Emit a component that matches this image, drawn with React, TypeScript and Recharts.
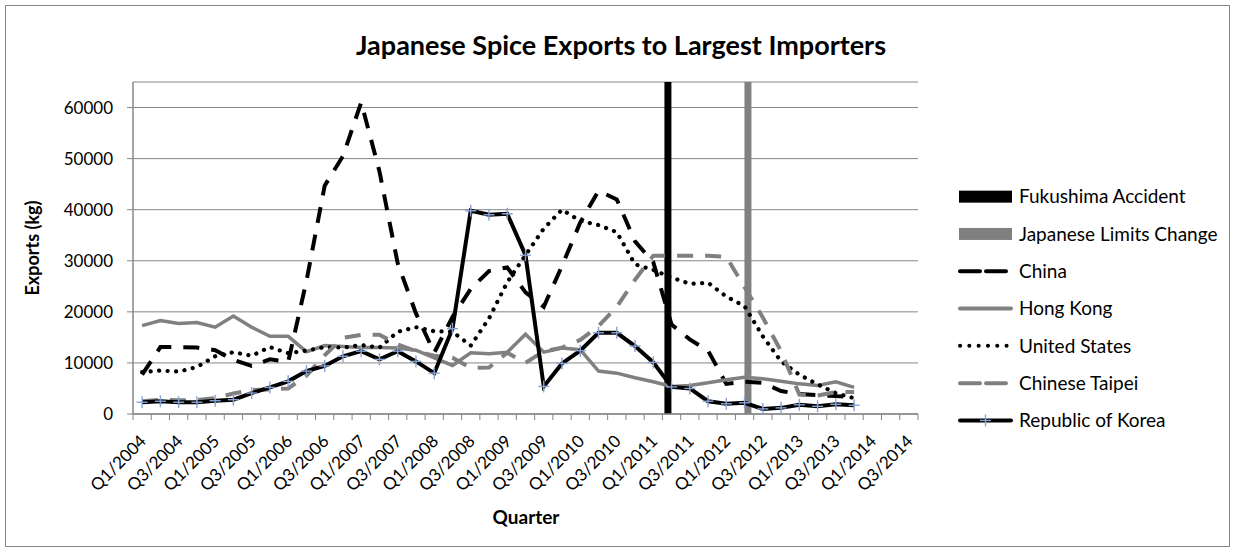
import React from 'react';
import { ComposedChart, Line, Bar, XAxis, YAxis, CartesianGrid, Legend } from 'recharts';

const quarters = [
  'Q1/2004', 'Q2/2004', 'Q3/2004', 'Q4/2004',
  'Q1/2005', 'Q2/2005', 'Q3/2005', 'Q4/2005',
  'Q1/2006', 'Q2/2006', 'Q3/2006', 'Q4/2006',
  'Q1/2007', 'Q2/2007', 'Q3/2007', 'Q4/2007',
  'Q1/2008', 'Q2/2008', 'Q3/2008', 'Q4/2008',
  'Q1/2009', 'Q2/2009', 'Q3/2009', 'Q4/2009',
  'Q1/2010', 'Q2/2010', 'Q3/2010', 'Q4/2010',
  'Q1/2011', 'Q2/2011', 'Q3/2011', 'Q4/2011',
  'Q1/2012', 'Q2/2012', 'Q3/2012', 'Q4/2012',
  'Q1/2013', 'Q2/2013', 'Q3/2013', 'Q4/2013',
  'Q1/2014', 'Q2/2014', 'Q3/2014',
];

const china = [
  7700, 13100, 13100, 13000, 12500, 10600, 9400, 10700, 10200, 26000,
  44700, 50500, 61000, 47500, 29500, 19700, 12000, 19000, 24500, 28000,
  28700, 23800, 21000, 29000, 37500, 43700, 42000, 33800, 29700, 17500,
  14600, 12400, 5900, 6300, 6100, 4500, 3900, 3700, 3500, 3300,
  null, null, null,
];

const hongKong = [
  17300, 18300, 17700, 17900, 17000, 19200, 17000, 15200, 15200, 12200,
  13400, 13200, 13000, 13000, 12900, 12500, 11000, 9500, 12000, 11800,
  12100, 15600, 12100, 12900, 12600, 8400, 8000, 7100, 6300, 5400,
  5600, 6100, 6700, 7200, 6900, 6400, 5900, 5600, 6300, 5200,
  null, null, null,
];

const unitedStates = [
  8200, 8500, 8300, 9200, 11300, 12100, 11400, 13100, 11900, 12400,
  13100, 13000, 13500, 13000, 16100, 17000, 16200, 16100, 13400, 18700,
  25800, 31100, 36300, 40000, 37800, 37000, 35600, 29300, 28200, 26700,
  25500, 25700, 23000, 21100, 15200, 10300, 7700, 5800, 4100, 3100,
  null, null, null,
];

const chineseTaipei = [
  2500, 2800, 2700, 2700, 3100, 4000, 4700, 4800, 5000, 7500,
  11500, 14900, 15500, 15500, 13600, 12300, 11400, 11000, 9000, 9100,
  12000, 10000, 12300, 13000, 14500, 17200, 21000, 26300, 31000, 31000,
  31000, 31000, 30800, 24800, 18900, 12300, 3800, 3600, 4300, 4300,
  null, null, null,
];

const korea = [
  2300, 2500, 2300, 2300, 2600, 2800, 4100, 5200, 6400, 8400,
  9400, 11300, 12300, 10700, 12300, 10300, 8000, 16700, 39800, 39000,
  39200, 31100, 5400, 9900, 12400, 15900, 15900, 13300, 10100, 5300,
  5000, 2500, 2000, 2200, 1000, 1200, 1800, 1500, 1900, 1700,
  null, null, null,
];

const fukushimaQuarter = 'Q2/2011';
const limitsQuarter = 'Q2/2012';
const eventMarkerValue = 65000;
const yTicks = [0, 10000, 20000, 30000, 40000, 50000, 60000];
const yMax = 65000;

const data = quarters.map((q, i) => ({
  q,
  fukushima: q === fukushimaQuarter ? eventMarkerValue : null,
  limits: q === limitsQuarter ? eventMarkerValue : null,
  china: china[i],
  hongKong: hongKong[i],
  us: unitedStates[i],
  taipei: chineseTaipei[i],
  korea: korea[i],
}));

const W = 1235;
const H = 552;
const PLOT_LEFT = 133;
const PLOT_RIGHT = 918;
const PLOT_TOP = 82;
const PLOT_BOTTOM = 414;
const FONT = 'Lato, "Open Sans", "DejaVu Sans", sans-serif';
const AXIS_GREY = '#868686';
const SERIES_GREY = '#808080';
const PLUS_BLUE = '#87a3d4';
const DASH = '16 12';
const DOTS = '0.1 8.4';

const bandWidth = (PLOT_RIGHT - PLOT_LEFT) / quarters.length;

const XTick = (props: any) => {
  const { x, payload, index } = props;
  const i = typeof index === 'number' ? index : payload.index;
  const left = x - bandWidth / 2;
  return (
    <g>
      <line x1={left} x2={left} y1={PLOT_BOTTOM} y2={PLOT_BOTTOM + 6} stroke={AXIS_GREY} strokeWidth={1} />
      {i === quarters.length - 1 && (
        <line x1={x + bandWidth / 2} x2={x + bandWidth / 2} y1={PLOT_BOTTOM} y2={PLOT_BOTTOM + 6} stroke={AXIS_GREY} strokeWidth={1} />
      )}
      {i % 2 === 0 && (
        <text
          transform={`translate(${x + 1},${PLOT_BOTTOM + 24}) rotate(-45)`}
          textAnchor="end"
          dy="0.35em"
          fontFamily={FONT}
          fontSize={17}
          fill="#000"
        >
          {payload.value}
        </text>
      )}
    </g>
  );
};

const PlusDot = (props: any) => {
  const { cx, cy, value, index } = props;
  if (value == null || cx == null || cy == null) return <g key={`p${index}`} />;
  return (
    <g key={`p${index}`}>
      <line x1={cx - 5.5} x2={cx + 5.5} y1={cy} y2={cy} stroke={PLUS_BLUE} strokeWidth={1.4} />
      <line x1={cx} x2={cx} y1={cy - 6} y2={cy + 6} stroke={PLUS_BLUE} strokeWidth={1.4} />
    </g>
  );
};

const legendItems = [
  { name: 'Fukushima Accident', kind: 'rect', color: '#000' },
  { name: 'Japanese Limits Change', kind: 'rect', color: SERIES_GREY },
  { name: 'China', kind: 'line', color: '#000', dash: '20 6', cap: 'round', w: 4 },
  { name: 'Hong Kong', kind: 'line', color: SERIES_GREY, dash: undefined, cap: 'round', w: 4 },
  { name: 'United States', kind: 'line', color: '#000', dash: '0.1 9.2', cap: 'round', w: 4 },
  { name: 'Chinese Taipei', kind: 'line', color: SERIES_GREY, dash: '20 6', cap: 'round', w: 4 },
  { name: 'Republic of Korea', kind: 'korea', color: '#000', dash: undefined, cap: 'round', w: 4 },
];

const ROW_H = 37.3;

const renderLegend = () => (
  <svg width={280} height={ROW_H * legendItems.length} style={{ display: 'block', overflow: 'visible' }}>
    {legendItems.map((it, k) => {
      const cy = ROW_H * k + ROW_H / 2;
      return (
        <g key={it.name}>
          {it.kind === 'rect' && <rect x={4} y={cy - 6} width={53} height={12} fill={it.color} />}
          {(it.kind === 'line' || it.kind === 'korea') && (
            <line
              x1={5}
              x2={56}
              y1={cy}
              y2={cy}
              stroke={it.color}
              strokeWidth={it.w}
              strokeDasharray={it.dash}
              strokeLinecap={it.cap as any}
            />
          )}
          {it.kind === 'korea' && (
            <g>
              <line x1={25} x2={36} y1={cy} y2={cy} stroke={PLUS_BLUE} strokeWidth={1.4} />
              <line x1={30.5} x2={30.5} y1={cy - 6} y2={cy + 6} stroke={PLUS_BLUE} strokeWidth={1.4} />
            </g>
          )}
          <text x={64} y={cy} dy="0.35em" fontFamily={FONT} fontSize={19} fill="#000">
            {it.name}
          </text>
        </g>
      );
    })}
  </svg>
);

export default function App() {
  return (
    <div style={{ position: 'absolute', left: 0, top: 0, width: W, height: H, background: '#fff' }}>
      <ComposedChart
        width={W}
        height={H}
        data={data}
        margin={{ top: PLOT_TOP, right: W - PLOT_RIGHT, bottom: 38, left: PLOT_LEFT - 60 }}
        barGap={0}
      >
        <CartesianGrid horizontal={true} vertical={false} stroke={AXIS_GREY} strokeWidth={1} />
        <XAxis
          dataKey="q"
          interval={0}
          tick={<XTick />}
          tickLine={false}
          axisLine={{ stroke: AXIS_GREY, strokeWidth: 1.5 }}
          height={100}
        />
        <YAxis
          width={60}
          domain={[0, yMax]}
          ticks={yTicks}
          allowDataOverflow
          tickSize={6}
          tickMargin={14}
          tickLine={{ stroke: AXIS_GREY }}
          axisLine={{ stroke: AXIS_GREY, strokeWidth: 1.5 }}
          tick={{ fontFamily: FONT, fontSize: 17, fill: '#000' }}
        />
        <Bar dataKey="fukushima" name="Fukushima Accident" fill="#000" barSize={7} isAnimationActive={false} />
        <Bar dataKey="limits" name="Japanese Limits Change" fill={SERIES_GREY} barSize={7} isAnimationActive={false} />
        <Line dataKey="china" name="China" stroke="#000" strokeWidth={4} strokeDasharray={DASH} dot={false} isAnimationActive={false} />
        <Line dataKey="hongKong" name="Hong Kong" stroke={SERIES_GREY} strokeWidth={3.5} dot={false} isAnimationActive={false} />
        <Line dataKey="us" name="United States" stroke="#000" strokeWidth={4.2} strokeDasharray={DOTS} strokeLinecap="round" dot={false} isAnimationActive={false} />
        <Line dataKey="taipei" name="Chinese Taipei" stroke={SERIES_GREY} strokeWidth={4} strokeDasharray={DASH} dot={false} isAnimationActive={false} />
        <Line dataKey="korea" name="Republic of Korea" stroke="#000" strokeWidth={4} dot={PlusDot} isAnimationActive={false} />
        <Legend
          layout="vertical"
          align="center"
          verticalAlign="middle"
          content={renderLegend}
          wrapperStyle={{ left: 955, top: 178, width: 280 }}
        />
      </ComposedChart>
      <svg
        width={W}
        height={H}
        style={{ position: 'absolute', left: 0, top: 0, pointerEvents: 'none' }}
      >
        <rect x={5.5} y={5.5} width={W - 11} height={H - 11} fill="none" stroke={AXIS_GREY} strokeWidth={1} />
        <text x={621} y={55} textAnchor="middle" fontFamily={FONT} fontWeight="bold" fontSize={27} fill="#000">
          Japanese Spice Exports to Largest Importers
        </text>
        <text
          transform={`translate(39,${(PLOT_TOP + PLOT_BOTTOM) / 2}) rotate(-90)`}
          textAnchor="middle"
          fontFamily={FONT}
          fontWeight="bold"
          fontSize={18}
          fill="#000"
        >
          Exports (kg)
        </text>
        <text x={526} y={524} textAnchor="middle" fontFamily={FONT} fontWeight="bold" fontSize={19} fill="#000">
          Quarter
        </text>
      </svg>
    </div>
  );
}
